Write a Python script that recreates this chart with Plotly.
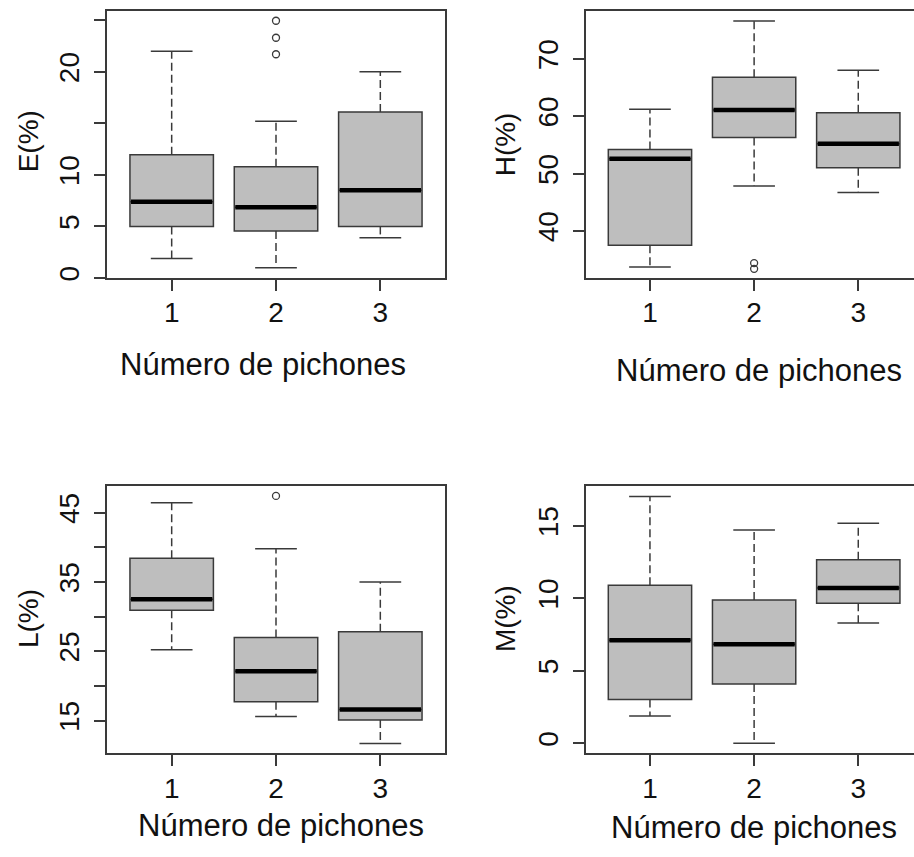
import plotly.graph_objects as go
from plotly.subplots import make_subplots

# ---------------- data ----------------
groups = [1, 2, 3]

E_low = [1.9, 1.0, 3.9]
E_q1 = [5.0, 4.55, 5.0]
E_med = [7.4, 6.85, 8.5]
E_q3 = [11.95, 10.8, 16.1]
E_high = [22.0, 15.2, 20.0]
E_out_x = [2, 2, 2]
E_out_y = [21.7, 23.3, 24.95]

H_low = [33.7, 47.85, 46.7]
H_q1 = [37.5, 56.3, 51.0]
H_med = [52.6, 61.1, 55.2]
H_q3 = [54.2, 66.8, 60.6]
H_high = [61.2, 76.6, 68.0]
H_out_x = [2, 2]
H_out_y = [33.4, 34.4]

L_low = [25.2, 15.6, 11.7]
L_q1 = [30.9, 17.7, 15.1]
L_med = [32.5, 22.1, 16.6]
L_q3 = [38.4, 27.0, 27.8]
L_high = [46.4, 39.8, 35.0]
L_out_x = [2]
L_out_y = [47.4]

M_low = [1.88, 0.0, 8.3]
M_q1 = [3.02, 4.08, 9.66]
M_med = [7.1, 6.83, 10.71]
M_q3 = [10.9, 9.89, 12.66]
M_high = [17.03, 14.72, 15.18]
M_out_x = []
M_out_y = []

x_ticks = [1, 2, 3]
x_title = "Número de pichones"

# ---------------- style ----------------
FONT = "Liberation Sans, Arial, sans-serif"
TXT = "#111111"
LINE = "#3a3a3a"
BOXW = 0.8
CAPW = 0.4

fig = make_subplots(rows=2, cols=2)

panels = [
    dict(r=1, c=1, low=E_low, q1=E_q1, med=E_med, q3=E_q3, high=E_high, ox=E_out_x, oy=E_out_y),
    dict(r=1, c=2, low=H_low, q1=H_q1, med=H_med, q3=H_q3, high=H_high, ox=H_out_x, oy=H_out_y),
    dict(r=2, c=1, low=L_low, q1=L_q1, med=L_med, q3=L_q3, high=L_high, ox=L_out_x, oy=L_out_y),
    dict(r=2, c=2, low=M_low, q1=M_q1, med=M_med, q3=M_q3, high=M_high, ox=M_out_x, oy=M_out_y),
]

for p in panels:
    # whiskers (dashed)
    wx, wy = [], []
    for g, lo, a, b, hi in zip(groups, p["low"], p["q1"], p["q3"], p["high"]):
        wx += [g, g, None, g, g, None]
        wy += [b, hi, None, a, lo, None]
    fig.add_trace(go.Scatter(x=wx, y=wy, mode="lines", showlegend=False, hoverinfo="skip",
                             line=dict(color=LINE, width=1.5, dash="8px,4px")), row=p["r"], col=p["c"])
    # staples
    sx, sy = [], []
    for g, lo, hi in zip(groups, p["low"], p["high"]):
        sx += [g - CAPW / 2, g + CAPW / 2, None, g - CAPW / 2, g + CAPW / 2, None]
        sy += [hi, hi, None, lo, lo, None]
    fig.add_trace(go.Scatter(x=sx, y=sy, mode="lines", showlegend=False, hoverinfo="skip",
                             line=dict(color=LINE, width=1.5)), row=p["r"], col=p["c"])
    # boxes
    fig.add_trace(go.Box(x=groups, q1=p["q1"], median=p["med"], q3=p["q3"],
                         lowerfence=p["q1"], upperfence=p["q3"], width=BOXW,
                         fillcolor="#bebebe", line=dict(color=LINE, width=1.5),
                         boxpoints=False, showlegend=False, whiskerwidth=0),
                  row=p["r"], col=p["c"])
    # medians (thick)
    mx, my = [], []
    for g, m in zip(groups, p["med"]):
        mx += [g - BOXW / 2 + 0.01, g + BOXW / 2 - 0.01, None]
        my += [m, m, None]
    fig.add_trace(go.Scatter(x=mx, y=my, mode="lines", showlegend=False, hoverinfo="skip",
                             line=dict(color="#000000", width=4.5)), row=p["r"], col=p["c"])
    # outliers
    if p["ox"]:
        fig.add_trace(go.Scatter(x=p["ox"], y=p["oy"], mode="markers", showlegend=False,
                                 marker=dict(symbol="circle-open", size=7, color=LINE,
                                             line=dict(width=1.3, color=LINE))),
                      row=p["r"], col=p["c"])

W, H = 914, 857
def px_x(a): return a / W
def px_y(a): return 1 - a / H

left_dom = [px_x(107), px_x(445)]
right_dom = [px_x(585.7), 1.0]
top_dom = [px_y(279.3), px_y(11)]
bot_dom = [px_y(756.7), px_y(488.3)]

axis_common = dict(showgrid=False, zeroline=False, ticks="outside", ticklen=11,
                   tickwidth=1.5, tickcolor=LINE, linecolor=LINE, linewidth=1.5,
                   showline=True, tickfont=dict(family=FONT, size=28, color=TXT))

xr_left = [0.38, 3.62]
xr_right = [0.383, 3.535]

# x axes
fig.update_xaxes(axis_common, tickvals=x_ticks, ticktext=[str(v) for v in x_ticks],
                 ticklabelstandoff=-2)
fig.update_xaxes(domain=left_dom, range=xr_left, mirror=True, row=1, col=1)
fig.update_xaxes(domain=right_dom, range=xr_right, mirror=True, row=1, col=2)
fig.update_xaxes(domain=left_dom, range=xr_left, mirror=True, row=2, col=1)
fig.update_xaxes(domain=right_dom, range=xr_right, mirror=True, row=2, col=2)

# y axes
fig.update_yaxes(axis_common, tickangle=-90, ticklabelstandoff=4)
fig.update_yaxes(domain=top_dom, range=[0.0, 25.9], mirror=True,
                 tickvals=[0, 5, 10, 15, 20, 25], ticktext=["0", "5", "10", "", "20", ""], row=1, col=1)
fig.update_yaxes(domain=top_dom, range=[31.8, 78.35], mirror=False,
                 tickvals=[40, 50, 60, 70], ticktext=["40", "50", "60", "70"], row=1, col=2)
fig.update_yaxes(domain=bot_dom, range=[10.3, 48.83], mirror=True,
                 tickvals=[15, 20, 25, 30, 35, 40, 45],
                 ticktext=["15", "", "25", "", "35", "", "45"], row=2, col=1)
fig.update_yaxes(domain=bot_dom, range=[-0.69, 17.75], mirror=False,
                 tickvals=[0, 5, 10, 15], ticktext=["0", "5", "10", "15"], row=2, col=2)

ann = []
for xc, yc in [(262.5, 366), (759, 372), (281, 829), (753.5, 831)]:
    ann.append(dict(text=x_title, x=px_x(xc), y=px_y(yc), xref="paper", yref="paper",
                    xanchor="center", yanchor="middle", showarrow=False,
                    font=dict(family=FONT, size=31, color=TXT)))
for txt, xc, yc in [("E(%)", 28, 142), ("H(%)", 505, 145), ("L(%)", 28, 622), ("M(%)", 505, 622)]:
    ann.append(dict(text=txt, x=px_x(xc), y=px_y(yc), xref="paper", yref="paper",
                    xanchor="center", yanchor="middle", showarrow=False, textangle=-90,
                    font=dict(family=FONT, size=28, color=TXT)))

fig.update_layout(width=W, height=H, margin=dict(l=0, r=0, t=0, b=0),
                  paper_bgcolor="white", plot_bgcolor="white", annotations=ann,
                  showlegend=False, boxmode="overlay")

fig.write_html("out.html")
